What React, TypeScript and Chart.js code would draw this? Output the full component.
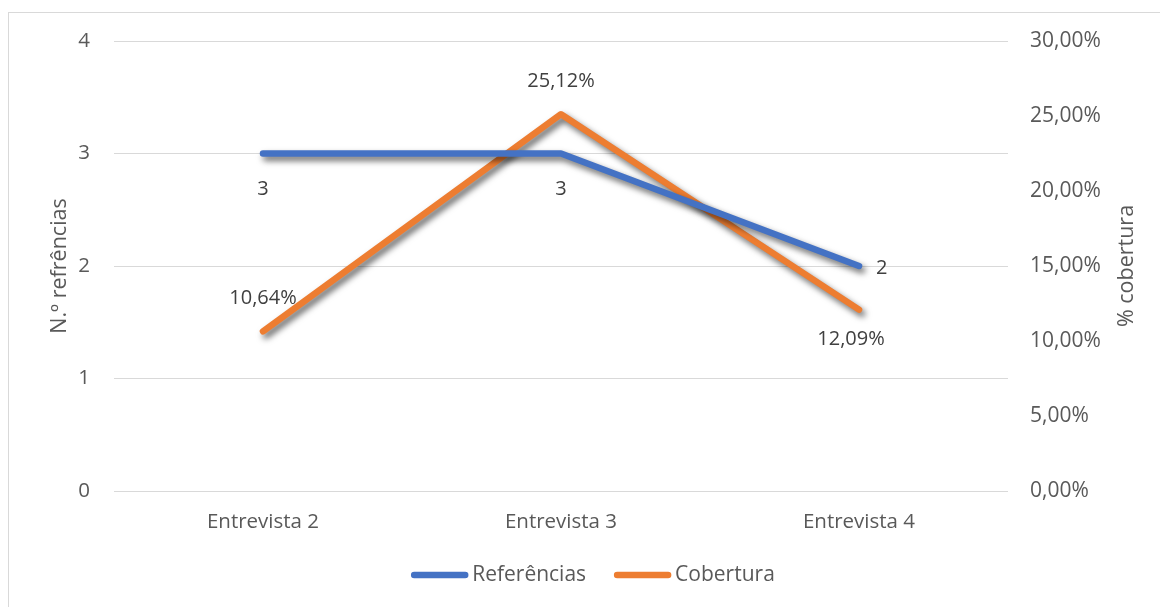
import React, { useEffect, useRef } from "react";
import { Chart, registerables } from "chart.js";

Chart.register(...registerables);

const categories = ["Entrevista 2", "Entrevista 3", "Entrevista 4"];
const referencias = [3, 3, 2];
const cobertura = [10.64, 25.12, 12.09];
const refLabelPos = ["below", "below", "right"];
const cobLabelPos = ["above", "above", "below"];
const seriesNames = ["Referências", "Cobertura"];
const leftTitle = "N.º refrências";
const rightTitle = "% cobertura";

const FONT = "'Open Sans', sans-serif";
const TEXT = "#595959";
const LABEL = "#404040";
const BLUE = "#4472C4";
const ORANGE = "#ED7D31";

const fmtPct = (v: number) => v.toFixed(2).replace(".", ",") + "%";

const shadowPlugin = {
  id: "shadowPlugin",
  beforeDatasetDraw(chart: any) {
    const ctx = chart.ctx;
    ctx.save();
    ctx.shadowColor = "rgba(0,0,0,0.6)";
    ctx.shadowBlur = 6;
    ctx.shadowOffsetX = 3;
    ctx.shadowOffsetY = 4;
  },
  afterDatasetDraw(chart: any) {
    chart.ctx.restore();
  },
};

const framePlugin = {
  id: "framePlugin",
  beforeDraw(chart: any) {
    const ctx = chart.ctx;
    ctx.save();
    ctx.fillStyle = "#ffffff";
    ctx.fillRect(0, 0, chart.width, chart.height);
    ctx.strokeStyle = "#d9d9d9";
    ctx.lineWidth = 1;
    ctx.strokeRect(8.5, 12.5, chart.width + 20, chart.height + 20);
    ctx.restore();
  },
};

const labelsPlugin = {
  id: "labelsPlugin",
  afterDatasetsDraw(chart: any) {
    const ctx = chart.ctx;
    ctx.save();
    ctx.font = `20px ${FONT}`;
    ctx.fillStyle = LABEL;
    chart.data.datasets.forEach((ds: any, di: number) => {
      const meta = chart.getDatasetMeta(di);
      const positions = di === 0 ? refLabelPos : cobLabelPos;
      meta.data.forEach((pt: any, i: number) => {
        const v = ds.data[i];
        const text = di === 0 ? String(v) : fmtPct(v);
        const pos = positions[i];
        let x = pt.x;
        let y = pt.y;
        ctx.textBaseline = "middle";
        if (pos === "below") {
          ctx.textAlign = "center";
          if (di === 0) {
            y += 36;
          } else {
            y += 30;
            x -= 8;
          }
        } else if (pos === "above") {
          ctx.textAlign = "center";
          y -= 33;
        } else {
          ctx.textAlign = "left";
          x += 17;
          y += 2;
        }
        ctx.fillText(text, x, y);
      });
    });
    ctx.restore();
  },
};

const titlesPlugin = {
  id: "titlesPlugin",
  afterDraw(chart: any) {
    const ctx = chart.ctx;
    const area = chart.chartArea;
    const cy = (area.top + area.bottom) / 2;
    ctx.save();
    ctx.font = `21.5px ${FONT}`;
    ctx.fillStyle = TEXT;
    ctx.textAlign = "center";
    ctx.textBaseline = "middle";
    [
      [60, leftTitle],
      [1127, rightTitle],
    ].forEach(([x, t]: any) => {
      ctx.save();
      ctx.translate(x, cy);
      ctx.rotate(-Math.PI / 2);
      ctx.fillText(t, 0, 0);
      ctx.restore();
    });

    // legend
    ctx.font = `21px ${FONT}`;
    const colors = [BLUE, ORANGE];
    const sw = 57;
    const gapText = 4;
    const gapItems = 28;
    const widths = seriesNames.map((n) => sw + gapText + ctx.measureText(n).width);
    const total = widths.reduce((a, b) => a + b, 0) + gapItems;
    let x = 593 - total / 2;
    const y = 575;
    seriesNames.forEach((n, i) => {
      ctx.strokeStyle = colors[i];
      ctx.lineWidth = 6.5;
      ctx.lineCap = "round";
      ctx.beginPath();
      ctx.moveTo(x + 3, y);
      ctx.lineTo(x + sw - 3, y);
      ctx.stroke();
      ctx.textAlign = "left";
      ctx.fillStyle = TEXT;
      ctx.fillText(n, x + sw + gapText, y);
      x += widths[i] + gapItems;
    });
    ctx.restore();
  },
};

export default function App() {
  const ref = useRef<HTMLCanvasElement | null>(null);
  useEffect(() => {
    if (!ref.current) return;
    Chart.defaults.font.family = FONT;
    Chart.defaults.font.size = 20;
    Chart.defaults.color = TEXT;
    const chart = new Chart(ref.current, {
      type: "line",
      data: {
        labels: categories,
        datasets: [
          {
            label: seriesNames[0],
            data: referencias,
            borderColor: BLUE,
            backgroundColor: BLUE,
            borderWidth: 6.5,
            pointRadius: 0,
            borderCapStyle: "round",
            borderJoinStyle: "round",
            yAxisID: "y",
            tension: 0,
          },
          {
            label: seriesNames[1],
            data: cobertura,
            borderColor: ORANGE,
            backgroundColor: ORANGE,
            borderWidth: 6.5,
            pointRadius: 0,
            borderCapStyle: "round",
            borderJoinStyle: "round",
            yAxisID: "y1",
            tension: 0,
          },
        ],
      },
      options: {
        animation: false,
        responsive: false,
        maintainAspectRatio: false,
        layout: { padding: { top: 41, left: 0, right: 0, bottom: 0 } },
        plugins: {
          legend: { display: false },
          tooltip: { enabled: false },
        },
        scales: {
          x: {
            offset: true,
            grid: { display: false, drawTicks: false },
            border: { display: false },
            ticks: { padding: 19, color: TEXT, font: { size: 20.5 } },
            afterFit: (s: any) => {
              s.height = 116;
            },
          },
          y: {
            position: "left",
            min: 0,
            max: 4,
            ticks: { stepSize: 1, padding: 24, color: TEXT, font: { size: 20.5 } },
            grid: { color: "#d9d9d9", lineWidth: 1, drawTicks: false },
            border: { display: false },
            afterFit: (s: any) => {
              s.width = 114;
            },
          },
          y1: {
            position: "right",
            min: 0,
            max: 30,
            ticks: {
              stepSize: 5,
              padding: 22,
              color: TEXT,
              font: { size: 21 },
              callback: (v: any) => fmtPct(Number(v)),
            },
            grid: { display: false, drawTicks: false },
            border: { display: false },
            afterFit: (s: any) => {
              s.width = 152;
            },
          },
        },
      },
      plugins: [framePlugin, shadowPlugin, labelsPlugin, titlesPlugin],
    } as any);
    return () => chart.destroy();
  }, []);

  return (
    <div
      style={{
        position: "fixed",
        left: 0,
        top: 0,
        width: 1160,
        height: 607,
        overflow: "hidden",
        background: "#fff",
      }}
    >
      <canvas ref={ref} width={1160} height={607} style={{ display: "block" }} />
    </div>
  );
}
